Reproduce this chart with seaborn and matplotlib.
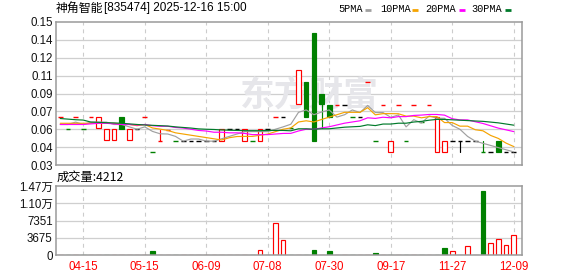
import numpy as np
import pandas as pd
import matplotlib
matplotlib.use("Agg")
import matplotlib.pyplot as plt
import seaborn as sns
from matplotlib.patches import Rectangle
from matplotlib.lines import Line2D

# ---------------- data (prices in 0.001 yuan) ----------------
title_name = "神角智能"
title_rest = "[835474] 2025-12-16 15:00"
tick_idx = [3, 11, 19, 27, 35, 43, 51, 59]
tick_labels = ["04-15", "05-15", "06-09", "07-08", "07-30", "09-17", "11-27", "12-09"]

opens = [70, 60, 70, 60, 70, 61, 51, 51, 70, 51,
         60, 70, 41, 50, 59, 50, 50, 50, 50, 50,
         50, 50, 60, 60, 50, 50, 50, 60, 70, 70,
         61, 81, 100, 141, 90, 80, 80, 80, 70, 70,
         100, 50, 80, 41, 80, 50, 80, 66, 80, 41,
         41, 50, 50, 50, 50, 41, 41, 50, 41, 41]
closes = [70, 60, 70, 60, 70, 70, 60, 60, 60, 60,
          60, 70, 41, 50, 59, 50, 50, 50, 50, 50,
          50, 60, 60, 60, 60, 50, 60, 60, 70, 70,
          61, 110, 70, 50, 81, 70, 80, 80, 70, 70,
          100, 50, 80, 50, 80, 50, 80, 66, 80, 70,
          50, 50, 50, 50, 50, 41, 41, 41, 41, 41]
highs = [70, 60, 70, 60, 70, 70, 60, 60, 70, 60,
         60, 70, 41, 59, 59, 50, 50, 50, 50, 50,
         50, 60, 60, 60, 60, 50, 60, 60, 70, 70,
         61, 110, 100, 141, 90, 80, 80, 80, 70, 70,
         100, 50, 80, 50, 80, 50, 80, 66, 80, 70,
         50, 50, 50, 50, 50, 50, 41, 50, 41, 41]
lows = [70, 60, 70, 60, 70, 61, 51, 51, 60, 51,
        60, 70, 41, 50, 59, 50, 50, 50, 50, 50,
        50, 50, 60, 60, 50, 50, 50, 60, 70, 70,
        61, 81, 70, 50, 61, 70, 80, 80, 70, 70,
        100, 50, 80, 41, 80, 50, 80, 66, 80, 41,
        41, 50, 41, 50, 50, 41, 41, 41, 41, 41]
prev_close = 60
volumes = [100, 100, 100, 100, 100, 100, 100, 100, 100, 100,
           100, 100, 880, 100, 100, 100, 100, 100, 100, 100,
           100, 100, 100, 100, 100, 100, 1000, 100, 6750, 3200,
           100, 100, 100, 1070, 100, 850, 100, 100, 100, 100,
           100, 450, 100, 100, 100, 100, 100, 100, 100, 100,
           1490, 900, 100, 1880, 100, 13650, 2500, 3380, 2130, 4212]

ma5 = [64, 64, 66, 64, 66, 66, 66, 64, 64, 62,
       60, 62, 58.2, 56.2, 56, 54, 50, 51.8, 51.8, 50,
       50, 52, 54, 56, 58, 58, 58, 58, 60, 62,
       64.2, 74.2, 76.2, 72.2, 74.4, 76.2, 70.2, 72.2, 76.2, 74,
       80, 74, 74, 70, 72, 62, 68, 65.2, 71.2, 69.2,
       69.2, 63.2, 60, 54, 50, 48.2, 46.4, 44.6, 42.8, 41]
ma10 = [65, 65, 65, 65, 65, 65, 65, 65, 64.5, 64,
        63, 64, 61.1, 60.1, 59, 57, 56, 55, 54, 53,
        52, 51, 52.9, 53.9, 54, 54, 55, 56, 58, 60,
        61.1, 66.1, 67.1, 66.1, 68.2, 70.2, 72.2, 74.2, 74.2, 74.2,
        78.1, 72.1, 73.1, 73.1, 73, 71, 71, 69.6, 70.6, 70.6,
        65.6, 65.6, 62.6, 62.6, 59.6, 58.7, 54.8, 52.3, 48.4, 45.5]
ma20 = [64, 64, 64, 64, 64.5, 65, 65, 64.5, 64, 64,
        63.5, 64, 63, 62.5, 62.5, 61.5, 61, 60, 59, 58.5,
        57.5, 57.5, 57, 57, 56.5, 55.5, 55.5, 55.5, 56, 56.5,
        56.55, 58.55, 60, 60, 61.1, 62.1, 63.6, 65.1, 66.1, 67.1,
        69.6, 69.1, 70.1, 69.6, 70.6, 70.6, 71.6, 71.9, 72.4, 72.4,
        71.85, 68.85, 67.85, 67.85, 66.3, 64.85, 62.9, 60.95, 59.5, 58.05]
ma30 = [69, 68.5, 68, 67.7, 66, 65.8, 65.5, 65.3, 65, 64.5,
        64, 63.6, 63.3, 63, 62.7, 62, 61.5, 61, 60.3, 60,
        59.8, 59.4, 59.2, 59, 58.8, 58.8, 58.8, 59, 59, 59,
        58.7, 60.37, 60.37, 60.03, 60.4, 60.4, 61.07, 61.73, 62.07, 62.4,
        63.73, 63.07, 64.37, 64.37, 65.07, 65.07, 66.07, 66.6, 67.6, 68.27,
        68.27, 67.93, 67.6, 67.27, 66.93, 66.63, 66, 65.37, 64.4, 63.43]

price_ticks = [0.03, 0.045, 0.06, 0.075, 0.09, 0.105, 0.12, 0.135, 0.15]
price_tick_labels = ["0.03", "0.04", "0.06", "0.07", "0.09", "0.11", "0.12", "0.14", "0.15"]
vol_ticks = [0, 3675.5, 7351, 11026.5, 14702]
vol_tick_labels = ["0", "3675", "7351", "1.10万", "1.47万"]

ma_names = ["5PMA", "10PMA", "20PMA", "30PMA"]
ma_colors = ["#a0a0a0", "#f5a300", "#ff00ff", "#007a2a"]

RED = "#ff0000"
GREEN = "#008000"
BLACK = "#000000"

# ---------------- style ----------------
sns.set_theme(style="white")
plt.rcParams["font.family"] = ["Liberation Sans", "Noto Sans CJK SC", "DejaVu Sans"]

W, H = 578, 276
fig = plt.figure(figsize=(W / 100, H / 100), dpi=100)
fig.patch.set_facecolor("white")


def fx(px):
    return px / W


def fy(py):
    return 1 - py / H


L, R = 56, 522
ax = fig.add_axes([fx(L), fy(165), fx(R) - fx(L), fy(22) - fy(165)])
axv = fig.add_axes([fx(L), fy(255), fx(R) - fx(L), fy(186) - fy(255)])

n = len(closes)
x = np.arange(n)
o = np.array(opens) / 1000.0
c = np.array(closes) / 1000.0
h = np.array(highs) / 1000.0
lo = np.array(lows) / 1000.0
pc = np.concatenate([[prev_close / 1000.0], c[:-1]])

XLIM = (-0.55, 60.08)
for a in (ax, axv):
    a.set_xlim(*XLIM)
    a.set_facecolor("white")
    for s in a.spines.values():
        s.set_color("#9a9a9a")
        s.set_linewidth(1.1)
    a.tick_params(length=0)
    for t in tick_idx:
        a.axvline(t, color="#cccccc", lw=0.8, ls=(0, (3.5, 3.5)), zorder=0.5)

ax.set_ylim(0.03, 0.15)
ax.set_yticks(price_ticks)
ax.set_yticklabels(price_tick_labels)
for t in price_ticks[1:-1]:
    ax.axhline(t, color="#cfcfcf", lw=0.9, zorder=0.5)
ax.set_xticks([])

axv.set_ylim(0, 14702)
axv.set_yticks(vol_ticks)
axv.set_yticklabels(vol_tick_labels)
for t in vol_ticks[1:-1]:
    axv.axhline(t, color="#cfcfcf", lw=0.9, zorder=0.5)
axv.set_xticks(tick_idx)
axv.set_xticklabels(tick_labels, color=RED)

for a in (ax, axv):
    a.tick_params(axis="y", pad=2.4, labelsize=8.3, labelcolor="#111111")
axv.tick_params(axis="x", pad=4.0, labelsize=8.3)

# watermark
ax.text((309 - L) / (R - L), (165 - 95) / 143, "东方财富", transform=ax.transAxes,
        ha="center", va="center", fontsize=25, fontweight="bold",
        color="#e6e6ea", family=["Noto Sans CJK SC"], zorder=0.6)

# ---------------- candles ----------------
bw = 0.6
for i in range(n):
    if c[i] > pc[i]:
        dcol = RED
    elif c[i] < pc[i]:
        dcol = GREEN
    else:
        dcol = BLACK
    if abs(c[i] - o[i]) < 1e-9:
        col = dcol
        ax.plot([i - bw / 2, i + bw / 2], [c[i], c[i]], color=col, lw=1.0,
                solid_capstyle="butt", zorder=2)
    elif c[i] > o[i]:
        col = RED
        ax.add_patch(Rectangle((i - bw / 2, o[i]), bw, c[i] - o[i], facecolor="white",
                               edgecolor=RED, lw=0.85, zorder=2))
    else:
        col = GREEN
        ax.add_patch(Rectangle((i - bw / 2, c[i]), bw, o[i] - c[i], facecolor=GREEN,
                               edgecolor=GREEN, lw=0.85, zorder=2))
    top, bot = max(o[i], c[i]), min(o[i], c[i])
    if h[i] > top:
        ax.plot([i, i], [top, h[i]], color=col, lw=0.85, zorder=2)
    if lo[i] < bot:
        ax.plot([i, i], [lo[i], bot], color=col, lw=0.85, zorder=2)

# ---------------- moving averages (seaborn) ----------------
for name, vals, colr in zip(ma_names, [ma5, ma10, ma20, ma30], ma_colors):
    sns.lineplot(x=x, y=np.array(vals) / 1000.0, color=colr, linewidth=0.85, ax=ax,
                 zorder=3, legend=False)
ax.set_xlabel("")
ax.set_ylabel("")
ax.set_xlim(*XLIM)
ax.set_ylim(0.03, 0.15)

# ---------------- volume ----------------
vols = np.array(volumes, dtype=float)
for i in range(n):
    if c[i] >= pc[i]:
        axv.bar(i, vols[i], width=bw, facecolor="white", edgecolor=RED, lw=0.85, zorder=2)
    else:
        axv.bar(i, vols[i], width=bw, facecolor=GREEN, edgecolor=GREEN, lw=0.85, zorder=2)
axv.set_xlim(*XLIM)
axv.set_ylim(0, 14702)

# ---------------- texts ----------------
fig.text(fx(55.5), fy(8.5), title_name, ha="left", va="center", fontsize=8.6,
         family=["Noto Sans CJK SC"], color="#000000")
fig.text(fx(103.5), fy(8.5), title_rest, ha="left", va="center", fontsize=8.5,
         family=["Liberation Sans"], color="#000000")
fig.text(fx(57), fy(177.5), "成交量:" + str(volumes[-1]), ha="left", va="center",
         fontsize=8.8, family=["Noto Sans CJK SC", "DejaVu Sans"], color="#000000")

text_x = [338.7, 380.0, 425.7, 471.3]
dash_x = [(364.7, 370.7), (412.0, 418.0), (459.0, 464.7), (505.3, 510.7)]
for name, colr, tx, (d0, d1) in zip(ma_names, ma_colors, text_x, dash_x):
    fig.text(fx(tx), fy(9.3), name, ha="left", va="center", fontsize=7.4,
             family=["Liberation Mono"], color="#000000")
    fig.add_artist(Line2D([fx(d0), fx(d1)], [fy(9.5), fy(9.5)], color=colr, lw=2.0,
                          transform=fig.transFigure, solid_capstyle="butt"))

fig.savefig("out.png", dpi=100, facecolor="white")
